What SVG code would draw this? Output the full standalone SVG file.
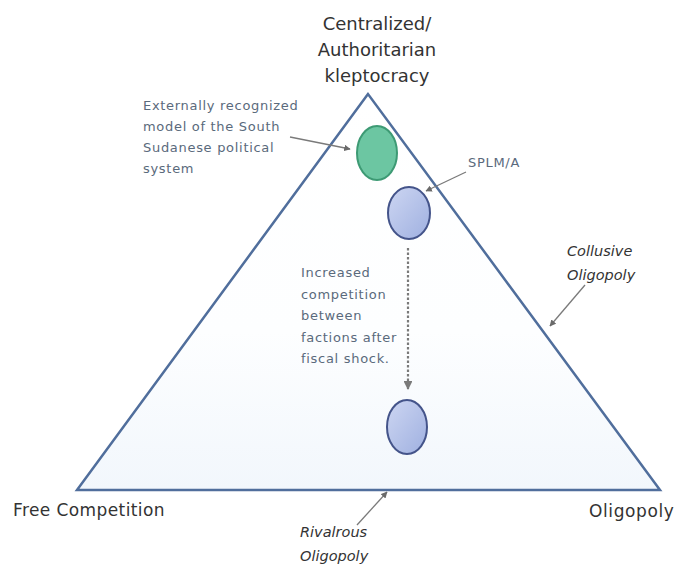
<svg xmlns="http://www.w3.org/2000/svg" width="680" height="565" viewBox="0 0 680 565">
<defs>
<style>
.lbl{font-family:"DejaVu Sans","Liberation Sans",sans-serif;fill:#333;}
.note{font-family:"DejaVu Sans","Liberation Sans",sans-serif;fill:#5a6a7c;font-size:13px;letter-spacing:0.7px;}
.it{font-style:italic;}
.conn{stroke:#7a7a7a;stroke-width:1.3;fill:none;}
</style>
<linearGradient id="triFill" x1="0" y1="0" x2="0" y2="1">
<stop offset="0" stop-color="#ffffff"/>
<stop offset="0.6" stop-color="#fdfeff"/>
<stop offset="1" stop-color="#f2f7fc"/>
</linearGradient>
<linearGradient id="blueFill" x1="0" y1="0" x2="1" y2="1">
<stop offset="0" stop-color="#cdd6f2"/>
<stop offset="1" stop-color="#9fb0e0"/>
</linearGradient>
<marker id="ah" viewBox="0 0 10 10" refX="9" refY="5" markerWidth="5" markerHeight="5" orient="auto">
<path d="M0,0 L10,5 L0,10 z" fill="#6a6a6a"/>
</marker>
<marker id="ahd" viewBox="0 0 10 10" refX="9" refY="5" markerWidth="4" markerHeight="4" orient="auto">
<path d="M0,0 L10,5 L0,10 z" fill="#7a7a7a"/>
</marker>
</defs>
<rect width="680" height="565" fill="#ffffff"/>

<g id="triangle">
<polygon points="368,94 77,490 660,490" fill="url(#triFill)" stroke="#506e9c" stroke-width="2.5" stroke-linejoin="miter"/>
</g>

<g id="title">
<text class="lbl" x="377" y="30" font-size="18" text-anchor="middle">Centralized/</text>
<text class="lbl" x="377" y="56" font-size="18" text-anchor="middle">Authoritarian</text>
<text class="lbl" x="377" y="82" font-size="18" text-anchor="middle">kleptocracy</text>
</g>

<g id="green-ellipse">
<ellipse cx="377" cy="153" rx="20" ry="27" fill="#6cc6a2" stroke="#3d9a74" stroke-width="2"/>
</g>
<g id="blue-ellipse-top">
<ellipse cx="409" cy="213" rx="21" ry="26" fill="url(#blueFill)" stroke="#44548a" stroke-width="2"/>
</g>
<g id="blue-ellipse-bottom">
<ellipse cx="407" cy="427" rx="20" ry="27" fill="url(#blueFill)" stroke="#44548a" stroke-width="2"/>
</g>

<g id="note-external">
<text class="note" x="143" y="110" letter-spacing="1">Externally recognized</text>
<text class="note" x="143" y="131" letter-spacing="1">model of the South</text>
<text class="note" x="143" y="152" letter-spacing="1">Sudanese political</text>
<text class="note" x="143" y="173" letter-spacing="1">system</text>
</g>

<g id="splm">
<text class="note" x="468" y="167" font-size="14" letter-spacing="1.8">SPLM/A</text>
</g>

<g id="note-competition">
<text class="note" x="301" y="277">Increased</text>
<text class="note" x="301" y="299">competition</text>
<text class="note" x="301" y="320">between</text>
<text class="note" x="301" y="342">factions after</text>
<text class="note" x="301" y="363">fiscal shock.</text>
</g>

<g id="collusive">
<text class="lbl it" x="567" y="256" font-size="14.5">Collusive</text>
<text class="lbl it" x="567" y="280" font-size="14.5">Oligopoly</text>
</g>

<g id="free-competition">
<text class="lbl" x="13" y="516" font-size="17" letter-spacing="0.4">Free Competition</text>
</g>
<g id="oligopoly">
<text class="lbl" x="589" y="517" font-size="17" letter-spacing="0.6">Oligopoly</text>
</g>
<g id="rivalrous">
<text class="lbl it" x="300" y="537" font-size="14.5">Rivalrous</text>
<text class="lbl it" x="300" y="561" font-size="14.5">Oligopoly</text>
</g>

<g id="connectors">
<line class="conn" x1="290" y1="137" x2="350" y2="149" marker-end="url(#ah)"/>
<line class="conn" x1="466" y1="172" x2="426" y2="191" marker-end="url(#ah)"/>
<line class="conn" x1="585" y1="285" x2="550" y2="326" marker-end="url(#ah)"/>
<line class="conn" x1="357" y1="525" x2="387" y2="492" marker-end="url(#ah)"/>
<line x1="408" y1="248" x2="408" y2="389" stroke="#7a7a7a" stroke-width="2.2" stroke-dasharray="2.5 2" marker-end="url(#ahd)"/>
</g>
</svg>
